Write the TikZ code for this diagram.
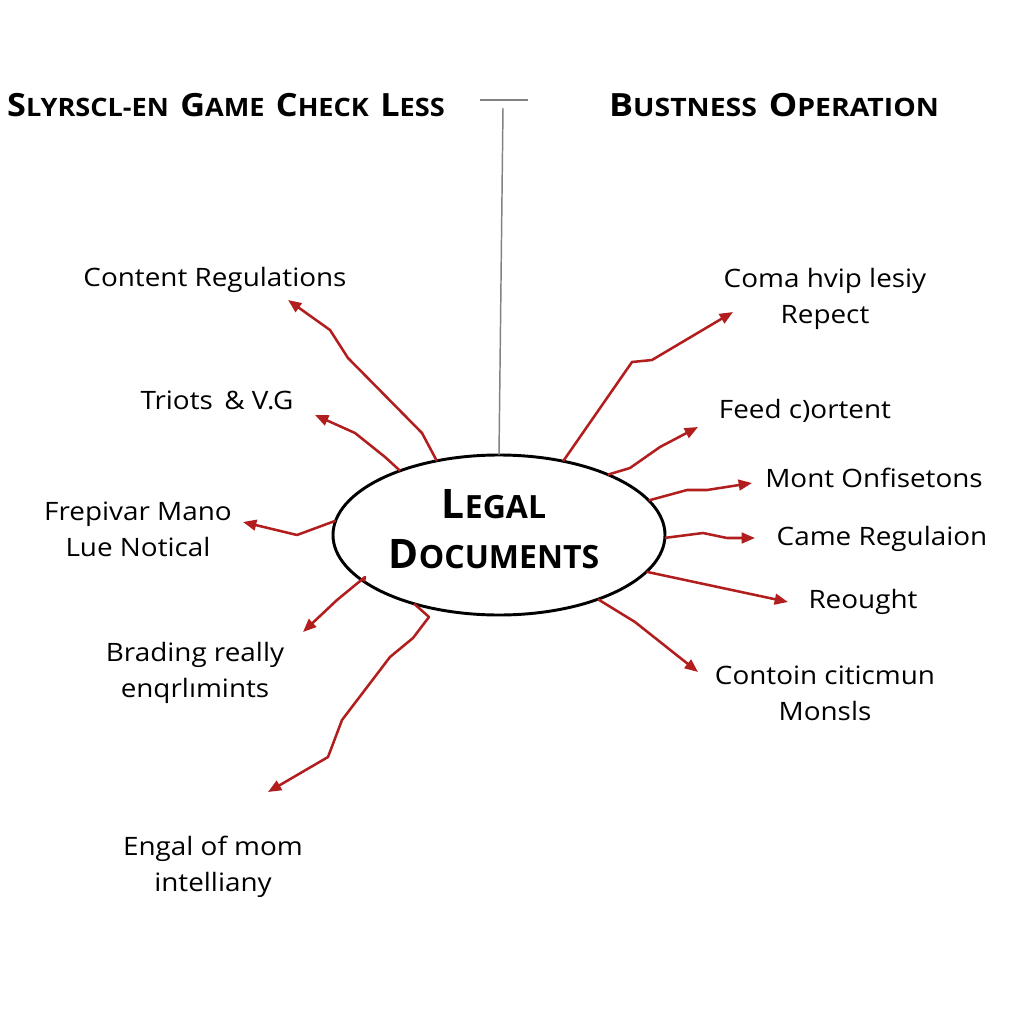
\documentclass[tikz,border=0pt]{standalone}
\usepackage{fontspec}
\setmainfont{Open Sans}
\newfontfamily\lblfont{Open Sans}[FakeStretch=1.1]
\usetikzlibrary{shapes.geometric,arrows.meta}
\definecolor{arrowred}{RGB}{178,30,30}
\definecolor{stemgray}{RGB}{130,130,130}
\newcommand\hbig[1]{{\fontsize{24pt}{28pt}\selectfont #1}}
\newcommand\hsml[1]{{\fontsize{19pt}{22pt}\selectfont #1}}
\newcommand\hgap{\hspace{8pt}}
\newcommand\lbig[1]{{\fontsize{30.5pt}{37.5pt}\selectfont #1}}
\newcommand\lsml[1]{{\fontsize{24pt}{37.5pt}\selectfont #1}}
\begin{document}
\begin{tikzpicture}[x=0.75pt,y=-0.75pt,
  lbl/.style={font=\lblfont\fontsize{19pt}{27pt}\selectfont, align=center, inner sep=0pt, anchor=base},
  hdr/.style={font=\bfseries, inner sep=0pt, anchor=base},
  conn/.style={draw=arrowred, line width=1.9pt, line join=round,
     -{Triangle[length=10pt,width=8pt]}},
  stem/.style={draw=stemgray, line width=1.1pt}]
\useasboundingbox[fill=white] (0,0) rectangle (1024,1024);

% headers
\node[hdr] (h1) at (226,117) {\scalebox{1.07}[1]{\hbig{S}\hsml{LYRSCL-EN}\hgap\hbig{G}\hsml{AME}\hgap\hbig{C}\hsml{HECK}\hgap\hbig{L}\hsml{ESS}}};
\node[hdr] (h2) at (774,117) {\scalebox{1.12}[1]{\hbig{B}\hsml{USTNESS}\hgap\hbig{O}\hsml{PERATION}}};

% central ellipse
\node[ellipse, draw, line width=2.2pt, minimum width=249pt, minimum height=120pt, inner sep=0pt, outer sep=0pt] (L) at (499,535) {};
\node[font=\bfseries\fontsize{24pt}{37.5pt}\selectfont, align=center, inner sep=0pt, anchor=base] (Ltxt) at (494,568) {\lbig{L}\lsml{EGAL}\\\lbig{D}\lsml{OCUMENTS}};

% stem lines
\coordinate (stemtop) at (503,108);
\coordinate (barl) at (480,100);
\coordinate (barr) at (528,100);
\draw[stem] (L.north) -- (stemtop);
\draw[stem] (barl) -- (barr);

% labels left (multi-line labels placed by their last baseline)
\node[lbl] (c1) at (215,286) {Content Regulations};
\node[lbl] (c2) at (217,409) {Triots \,\& V.G};
\node[lbl] (c3) at (138,556) {Frepivar Mano\\Lue Notical};
\node[lbl] (c4) at (195,697) {Brading really\\enqrlımints};
\node[lbl] (c5) at (213,891) {Engal of mom\\intelliany};
% labels right
\node[lbl] (d1) at (825,323) {Coma hvip lesiy\\Repect};
\node[lbl] (d2) at (805,418) {Feed c)ortent};
\node[lbl] (d3) at (874,487) {Mont Onfisetons};
\node[lbl] (d4) at (882,545) {Came Regulaion};
\node[lbl] (d5) at (863,608) {Reought};
\node[lbl] (d6) at (825,720) {Contoin citicmun\\Monsls};

% arrow tips
\coordinate (t1) at (288,300);
\coordinate (t2) at (315,415);
\coordinate (t3) at (243,522);
\coordinate (t4) at (303,632);
\coordinate (t5) at (268,792);
\coordinate (u1) at (733,312);
\coordinate (u2) at (698,427);
\coordinate (u3) at (752,483);
\coordinate (u4) at (755,538);
\coordinate (u5) at (788,602);
\coordinate (u6) at (698,672);

% connectors left
\draw[conn] (L.130) -- (422,433) -- (348,358) -- (330,330) -- (t1);
\draw[conn] (L.147) -- (385,457) -- (355,433) -- (t2);
\draw[conn] (L.175.5) -- (297,535) -- (t3);
\draw[conn] (L.199) -- (365,577) -- (337,600) -- (t4);
\draw[conn] (L.219) -- (429,617) -- (413,638) -- (390,657) -- (342,720) -- (328,757) -- (t5);
% connectors right
\draw[conn] (L.49.5) -- (632,362) -- (652,360) -- (u1);
\draw[conn] (L.29) -- (630,468) -- (660,447) -- (u2);
\draw[conn] (L.13) -- (687,490) -- (707,490) -- (u3);
\draw[conn] (L.-1) -- (703,533) -- (727,538) -- (u4);
\draw[conn] (L.-14) -- (u5);
\draw[conn] (L.-33) -- (635,622) -- (u6);
\end{tikzpicture}
\end{document}
